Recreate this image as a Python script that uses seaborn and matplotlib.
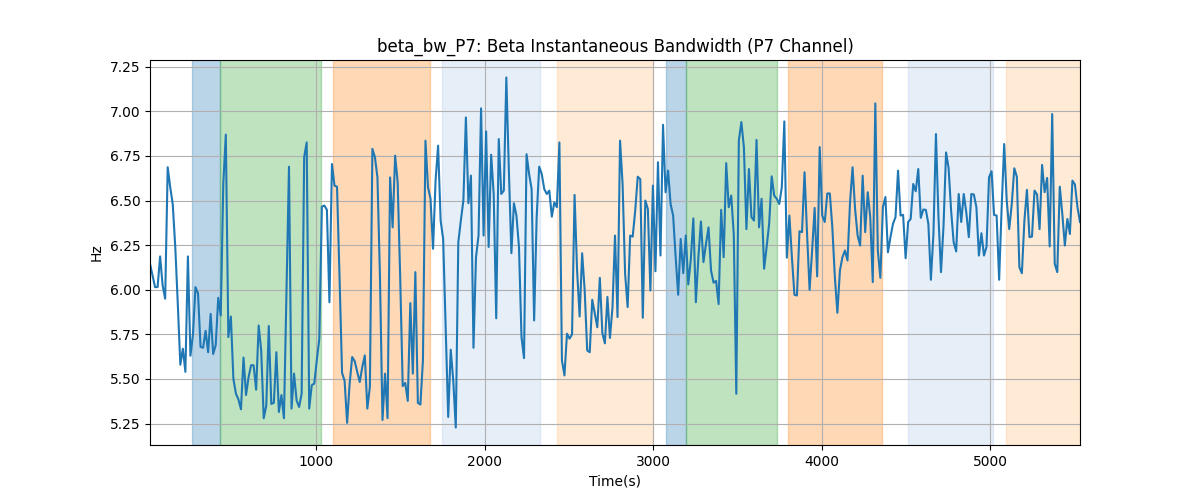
import numpy as np
import matplotlib
matplotlib.use("Agg")
import matplotlib.pyplot as plt
import seaborn as sns

# sampling
t_start = 14
t_step = 15

values = [
    # 0 - ~700 s
    6.146, 6.08, 6.015, 6.015, 6.187, 6.024, 5.95, 6.687, 6.575, 6.48,
    6.24, 5.92, 5.58, 5.67, 5.54, 6.187, 5.63, 5.75, 6.015, 5.98,
    5.68, 5.675, 5.77, 5.65, 5.865, 5.64, 5.69, 5.955, 5.856, 6.593,
    6.87, 5.735, 5.85, 5.50, 5.418, 5.385, 5.33, 5.62, 5.41, 5.51,
    5.577, 5.577, 5.44, 5.80, 5.66, 5.28, 5.35,
    # ~700 - 1390 s
    5.797, 5.36, 5.366, 5.65, 5.315, 5.41, 5.28, 6.0, 6.69, 5.334,
    5.53, 5.38, 5.343, 5.417, 6.743, 6.826, 5.334, 5.465, 5.474, 5.605,
    5.726, 6.466, 6.472, 6.448, 5.93, 6.705, 6.584, 6.578, 6.07, 5.534,
    5.49, 5.254, 5.474, 5.623, 5.60, 5.54, 5.483, 5.567, 5.632, 5.334,
    5.455, 6.79, 6.743, 6.63, 6.07, 5.27,
    # ~1390 - 2080 s
    5.53, 5.28, 6.63, 6.35, 6.752, 6.603, 6.07, 5.46, 5.478, 5.377,
    5.925, 5.53, 6.099, 5.366, 5.357, 5.605, 6.836, 6.575, 6.51, 6.23,
    6.612, 6.808, 6.388, 6.285, 5.79, 5.287, 5.664, 5.49, 5.228, 6.267,
    6.388, 6.50, 6.966, 6.485, 6.64, 5.675, 6.183, 6.304, 7.017, 6.304,
    6.888, 6.24, 6.757, 6.537, 5.84, 6.845,
    # ~2080 - 2770 s
    6.537, 6.556, 7.19, 6.67, 6.205, 6.485, 6.416, 6.24, 5.735, 5.617,
    6.76, 6.65, 6.565, 5.828, 6.407, 6.69, 6.65, 6.565, 6.537, 6.556,
    6.41, 6.49, 6.463, 6.826, 5.604, 5.52, 5.754, 5.726, 5.75, 6.532,
    6.108, 5.85, 6.205, 5.996, 5.66, 5.65, 5.944, 5.866, 5.79, 6.067,
    5.757, 5.70, 5.96, 5.73, 5.90, 6.304,
    # ~2770 - 3460 s
    5.847, 6.836, 6.593, 6.09, 5.903, 6.304, 6.298, 6.444, 6.634, 6.62,
    5.843, 6.50, 6.453, 5.996, 6.584, 6.104, 6.715, 6.192, 6.925, 6.547,
    6.668, 6.481, 6.416, 6.183, 5.972, 6.285, 6.093, 6.304, 6.03, 6.17,
    6.40, 5.93, 6.183, 6.383, 6.155, 6.257, 6.35, 6.108, 6.04, 6.05,
    5.92, 6.448, 6.183, 6.71, 6.463, 6.528,
    # ~3460 - 4150 s
    6.31, 5.417, 6.836, 6.94, 6.80, 6.34, 6.677, 6.407, 6.388, 6.84,
    6.35, 6.51, 6.118, 6.24, 6.37, 6.636, 6.528, 6.51, 6.481, 6.575,
    6.944, 6.18, 6.416, 6.183, 5.972, 5.968, 6.328, 6.323, 6.659, 6.313,
    6.0, 6.22, 6.459, 6.075, 6.80, 6.416, 6.38, 6.54, 6.54, 6.35,
    6.07, 5.871, 6.108, 6.183, 6.22, 6.164,
    # ~4150 - 4840 s
    6.49, 6.687, 6.453, 6.304, 6.248, 6.64, 6.323, 6.547, 6.407, 6.043,
    7.045, 6.22, 6.067, 6.463, 6.52, 6.21, 6.295, 6.37, 6.407, 6.668,
    6.416, 6.42, 6.177, 6.38, 6.397, 6.593, 6.552, 6.677, 6.403, 6.45,
    6.448, 6.37, 6.056, 6.313, 6.873, 6.407, 6.099, 6.36, 6.77, 6.683,
    6.444, 6.267, 6.215, 6.537, 6.38, 6.537,
    # ~4840 - 5534 s
    6.435, 6.295, 6.537, 6.534, 6.463, 6.192, 6.317, 6.192, 6.24, 6.63,
    6.664, 6.42, 6.416, 6.056, 6.463, 6.817, 6.5, 6.34, 6.481, 6.681,
    6.634, 6.127, 6.093, 6.388, 6.56, 6.295, 6.298, 6.556, 6.534, 6.34,
    6.70, 6.547, 6.627, 6.243, 6.985, 6.146, 6.099, 6.578, 6.425, 6.248,
    6.397, 6.313, 6.612, 6.59, 6.463, 6.38,
]

time = t_start + t_step * np.arange(len(values))

span_starts = [263, 431, 1100, 1747, 2430, 3077, 3197, 3801, 4513, 5094]
span_ends = [431, 1031, 1675, 2326, 3001, 3197, 3738, 4356, 5020, 5534]
span_colors = ["#1f77b4", "#2ca02c", "#ff7f0e", "#aec7e8", "#ffbb78",
               "#1f77b4", "#2ca02c", "#ff7f0e", "#aec7e8", "#ffbb78"]

title = "beta_bw_P7: Beta Instantaneous Bandwidth (P7 Channel)"
x_label = "Time(s)"
y_label = "Hz"

fig, ax = plt.subplots(figsize=(12, 5), dpi=100)

for s, e, c in zip(span_starts, span_ends, span_colors):
    ax.axvspan(s, e, color=c, alpha=0.3)

sns.lineplot(x=time, y=values, ax=ax, color="#1f77b4", linewidth=1.5)

ax.set_xlim(time[0], time[-1])
ax.grid(True)
ax.set_title(title)
ax.set_xlabel(x_label)
ax.set_ylabel(y_label)

fig.savefig("out.png", dpi=100)
